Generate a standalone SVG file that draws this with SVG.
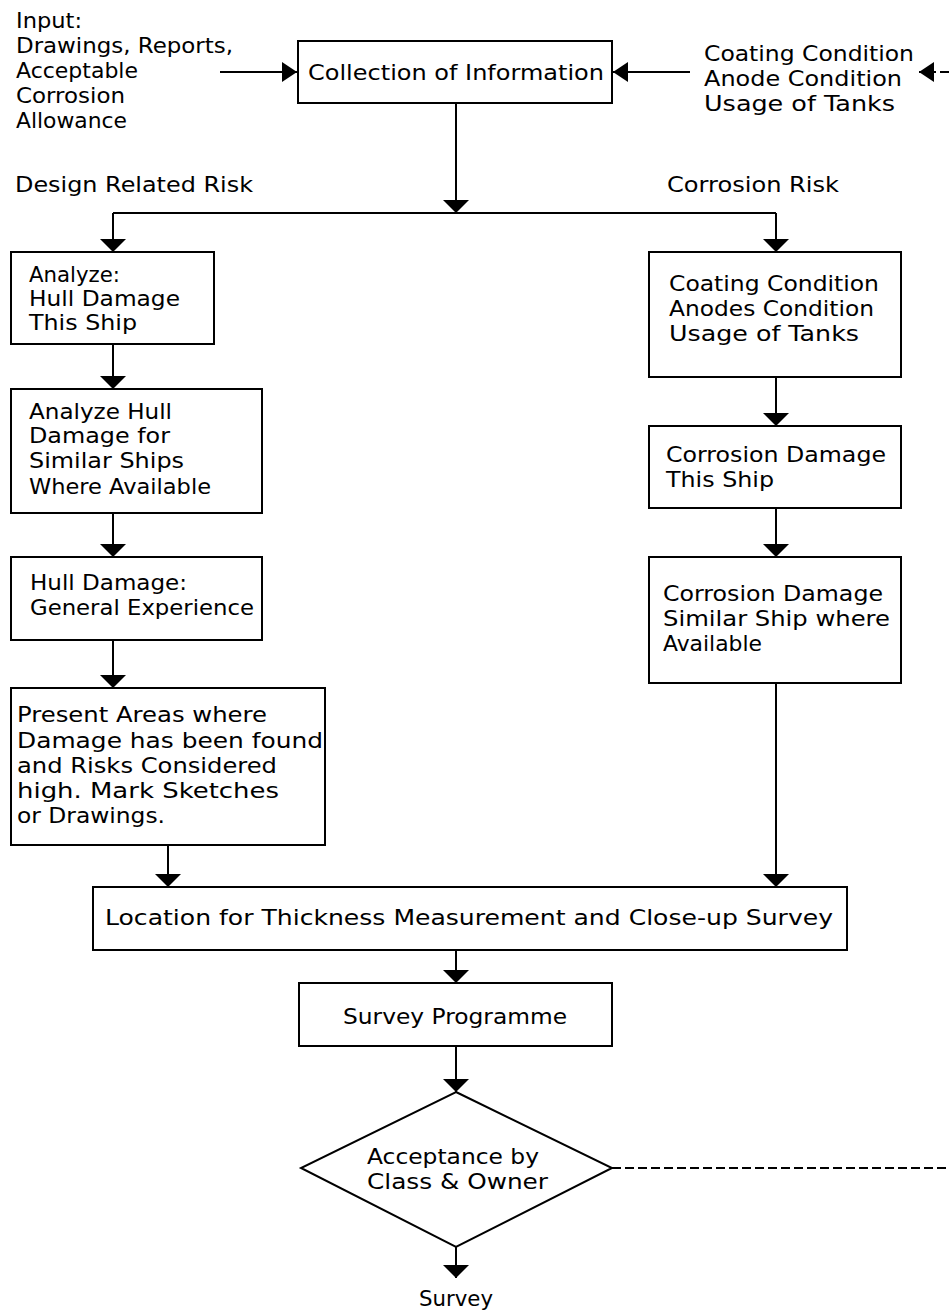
<svg xmlns="http://www.w3.org/2000/svg" width="949" height="1313" viewBox="0 0 949 1313">
<style>
  .box { fill: #fff; stroke: #000; stroke-width: 2; }
  .t { font-family: "DejaVu Sans", "Liberation Sans", sans-serif; font-size: 21px; fill: #000; }
  .ln { fill: none; stroke: #000; stroke-width: 2; }
  .dash { stroke-dasharray: 9 4; }
</style>
<defs>
  <marker id="av" markerUnits="userSpaceOnUse" markerWidth="14" markerHeight="28" viewBox="0 0 14 28" refX="13" refY="14" orient="auto">
    <path d="M0,1 L13,14 L0,27 z" fill="#000"/>
  </marker>
  <marker id="ah" markerUnits="userSpaceOnUse" markerWidth="16" markerHeight="22" viewBox="0 0 16 22" refX="15" refY="11" orient="auto">
    <path d="M0,1 L15,11 L0,21 z" fill="#000"/>
  </marker>
</defs>

<rect width="949" height="1313" fill="#fff"/>

<g id="connectors">
  <path class="ln" d="M220,72 H297" marker-end="url(#ah)"/>
  <path class="ln" d="M690,72 H613" marker-end="url(#ah)"/>
  <path class="ln dash" d="M949,72 H919" marker-end="url(#ah)"/>
  <path class="ln" d="M456,103 V213" marker-end="url(#av)"/>
  <path class="ln" d="M113,213 H776"/>
  <path class="ln" d="M113,213 V252" marker-end="url(#av)"/>
  <path class="ln" d="M776,213 V252" marker-end="url(#av)"/>
  <path class="ln" d="M113,344 V389" marker-end="url(#av)"/>
  <path class="ln" d="M113,513 V557" marker-end="url(#av)"/>
  <path class="ln" d="M113,640 V688" marker-end="url(#av)"/>
  <path class="ln" d="M168,845 V887" marker-end="url(#av)"/>
  <path class="ln" d="M776,377 V426" marker-end="url(#av)"/>
  <path class="ln" d="M776,508 V557" marker-end="url(#av)"/>
  <path class="ln" d="M776,683 V887" marker-end="url(#av)"/>
  <path class="ln" d="M456,950 V983" marker-end="url(#av)"/>
  <path class="ln" d="M456,1046 V1092" marker-end="url(#av)"/>
  <path class="ln" d="M456,1247 V1278" marker-end="url(#av)"/>
  <path class="ln dash" d="M612,1168 H949"/>
</g>

<g id="input-label">
  <text class="t" x="16" y="28" textLength="66" lengthAdjust="spacingAndGlyphs">Input:</text>
  <text class="t" x="16" y="53" textLength="217" lengthAdjust="spacingAndGlyphs">Drawings, Reports,</text>
  <text class="t" x="16" y="78" textLength="122" lengthAdjust="spacingAndGlyphs">Acceptable</text>
  <text class="t" x="16" y="103" textLength="109" lengthAdjust="spacingAndGlyphs">Corrosion</text>
  <text class="t" x="16" y="128" textLength="111" lengthAdjust="spacingAndGlyphs">Allowance</text>
</g>

<g id="collection">
  <rect class="box" x="298" y="41" width="314" height="62"/>
  <text class="t" x="308" y="80" textLength="296" lengthAdjust="spacingAndGlyphs">Collection of Information</text>
</g>

<g id="condition-label">
  <text class="t" x="704" y="61" textLength="210" lengthAdjust="spacingAndGlyphs">Coating Condition</text>
  <text class="t" x="704" y="86" textLength="198" lengthAdjust="spacingAndGlyphs">Anode Condition</text>
  <text class="t" x="704" y="111" textLength="191" lengthAdjust="spacingAndGlyphs">Usage of Tanks</text>
</g>

<g id="design-risk-label">
  <text class="t" x="15" y="192" textLength="238" lengthAdjust="spacingAndGlyphs">Design Related Risk</text>
</g>
<g id="corrosion-risk-label">
  <text class="t" x="667" y="192" textLength="172" lengthAdjust="spacingAndGlyphs">Corrosion Risk</text>
</g>

<g id="analyze-this">
  <rect class="box" x="11" y="252" width="203" height="92"/>
  <text class="t" x="29" y="282" textLength="91" lengthAdjust="spacingAndGlyphs">Analyze:</text>
  <text class="t" x="29" y="306" textLength="151" lengthAdjust="spacingAndGlyphs">Hull Damage</text>
  <text class="t" x="29" y="330" textLength="108" lengthAdjust="spacingAndGlyphs">This Ship</text>
</g>

<g id="analyze-similar">
  <rect class="box" x="11" y="389" width="251" height="124"/>
  <text class="t" x="29" y="419" textLength="143" lengthAdjust="spacingAndGlyphs">Analyze Hull</text>
  <text class="t" x="29" y="443" textLength="141" lengthAdjust="spacingAndGlyphs">Damage for</text>
  <text class="t" x="29" y="468" textLength="155" lengthAdjust="spacingAndGlyphs">Similar Ships</text>
  <text class="t" x="29" y="494" textLength="182" lengthAdjust="spacingAndGlyphs">Where Available</text>
</g>

<g id="general-experience">
  <rect class="box" x="11" y="557" width="251" height="83"/>
  <text class="t" x="30" y="590" textLength="157" lengthAdjust="spacingAndGlyphs">Hull Damage:</text>
  <text class="t" x="30" y="615" textLength="224" lengthAdjust="spacingAndGlyphs">General Experience</text>
</g>

<g id="present-areas">
  <rect class="box" x="11" y="688" width="314" height="157"/>
  <text class="t" x="17" y="722" textLength="250" lengthAdjust="spacingAndGlyphs">Present Areas where</text>
  <text class="t" x="17" y="748" textLength="306" lengthAdjust="spacingAndGlyphs">Damage has been found</text>
  <text class="t" x="17" y="773" textLength="260" lengthAdjust="spacingAndGlyphs">and Risks Considered</text>
  <text class="t" x="17" y="798" textLength="262" lengthAdjust="spacingAndGlyphs">high. Mark Sketches</text>
  <text class="t" x="17" y="823" textLength="148" lengthAdjust="spacingAndGlyphs">or Drawings.</text>
</g>

<g id="coating-condition">
  <rect class="box" x="649" y="252" width="252" height="125"/>
  <text class="t" x="669" y="291" textLength="210" lengthAdjust="spacingAndGlyphs">Coating Condition</text>
  <text class="t" x="669" y="316" textLength="205" lengthAdjust="spacingAndGlyphs">Anodes Condition</text>
  <text class="t" x="669" y="341" textLength="190" lengthAdjust="spacingAndGlyphs">Usage of Tanks</text>
</g>

<g id="corrosion-this">
  <rect class="box" x="649" y="426" width="252" height="82"/>
  <text class="t" x="666" y="462" textLength="220" lengthAdjust="spacingAndGlyphs">Corrosion Damage</text>
  <text class="t" x="666" y="487" textLength="108" lengthAdjust="spacingAndGlyphs">This Ship</text>
</g>

<g id="corrosion-similar">
  <rect class="box" x="649" y="557" width="252" height="126"/>
  <text class="t" x="663" y="601" textLength="220" lengthAdjust="spacingAndGlyphs">Corrosion Damage</text>
  <text class="t" x="663" y="626" textLength="227" lengthAdjust="spacingAndGlyphs">Similar Ship where</text>
  <text class="t" x="663" y="651" textLength="99" lengthAdjust="spacingAndGlyphs">Available</text>
</g>

<g id="location">
  <rect class="box" x="93" y="887" width="754" height="63"/>
  <text class="t" x="105" y="925" textLength="728" lengthAdjust="spacingAndGlyphs">Location  for Thickness Measurement and Close-up Survey</text>
</g>

<g id="survey-programme">
  <rect class="box" x="299" y="983" width="313" height="63"/>
  <text class="t" x="343" y="1024" textLength="224" lengthAdjust="spacingAndGlyphs">Survey Programme</text>
</g>

<g id="acceptance">
  <polygon class="box" points="456,1092 612,1168 456,1247 301,1168"/>
  <text class="t" x="367" y="1164" textLength="172" lengthAdjust="spacingAndGlyphs">Acceptance by</text>
  <text class="t" x="367" y="1189" textLength="181" lengthAdjust="spacingAndGlyphs">Class &amp; Owner</text>
</g>

<g id="survey">
  <text class="t" x="419" y="1306" textLength="74" lengthAdjust="spacingAndGlyphs">Survey</text>
</g>
</svg>
